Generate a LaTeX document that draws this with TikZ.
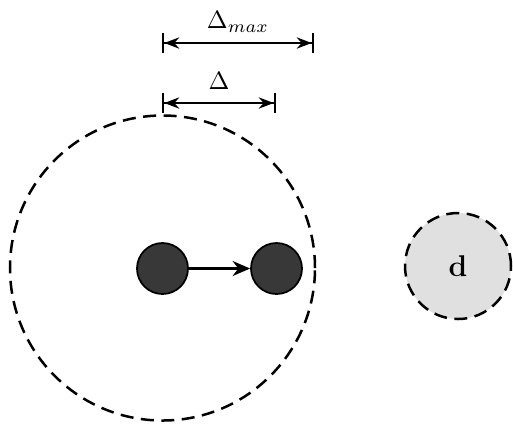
\documentclass[tikz,border=0pt]{standalone}
\usetikzlibrary{arrows.meta}
\begin{document}
\begin{tikzpicture}[x=0.4pt,y=-0.4pt,
  dashcirc/.style={draw, dash pattern=on 5.2pt off 3pt, line width=1pt},
  ball/.style={circle, draw, line width=0.7pt, fill=black!78, minimum size=20.4pt, inner sep=0pt},
  dimline/.style={line width=0.9pt, {Bar[width=8pt]Stealth[length=6pt,width=4.5pt]}-{Stealth[length=6pt,width=4.5pt]Bar[width=8pt]}},
  arr/.style={line width=0.9pt, -{Stealth[length=7pt,width=6pt]}}]
\useasboundingbox (0,0) rectangle (513,423);
\node[dashcirc, circle, minimum size=122pt, inner sep=0pt] (big) at (162.5,268) {};
\node[ball] (a) at (162.5,268.5) {};
\node[ball] (b) at (276.5,268.5) {};
\draw[arr] (a) -- (b);
\node[dashcirc, circle, fill=black!12, minimum size=42.4pt, inner sep=0pt] (d) at (458,266) {\large$\mathbf{d}$};
\coordinate (m1) at (162,43);
\coordinate (m2) at (314,43);
\coordinate (s1) at (162,103);
\coordinate (s2) at (276,103);
\draw[dimline] (m1) -- node[above=0.5pt] (lm) {$\Delta_{max}$} (m2);
\draw[dimline] (s1) -- node[above=1.5pt] (ls) {$\Delta$} (s2);
\end{tikzpicture}
\end{document}
